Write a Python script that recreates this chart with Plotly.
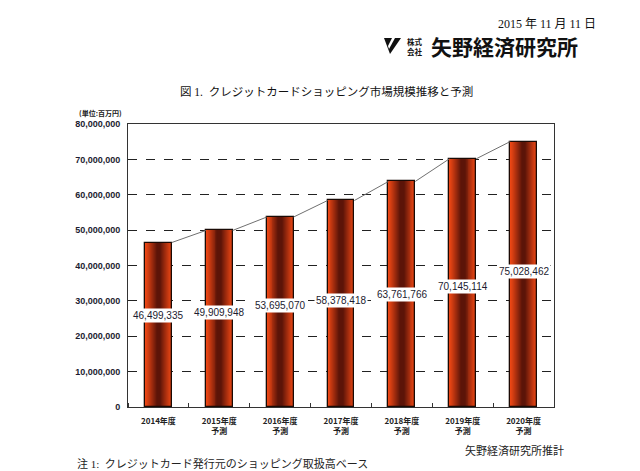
import plotly.graph_objects as go

# ---- data ----
years = ["2014年度", "2015年度", "2016年度", "2017年度", "2018年度", "2019年度", "2020年度"]
sublabels = ["", "予測", "予測", "予測", "予測", "予測", "予測"]
values = [46499335, 49909948, 53695070, 58378418, 63761766, 70145114, 75028462]
label_y = [26.0e6, 26.6e6, 28.8e6, 30.0e6, 31.9e6, 34.2e6, 38.4e6]  # where value labels sit
y_ticks = [0, 10000000, 20000000, 30000000, 40000000, 50000000, 60000000, 70000000, 80000000]

xs = list(range(len(years)))
BAR_W = 0.44
N_LAYERS = 14
edge = (236, 70, 20)
center = (92, 20, 8)

def lerp(a, b, t):
    return "rgb(%d,%d,%d)" % tuple(round(a[i] + (b[i] - a[i]) * t) for i in range(3))

fig = go.Figure()
for k in range(N_LAYERS):
    frac = 1 - k / N_LAYERS
    t = min(((1 - frac) ** 1.1) * 1.25, 1)
    fig.add_trace(go.Bar(x=xs, y=values, width=BAR_W * frac,
                         marker=dict(color=lerp(edge, center, t), line=dict(width=0)),
                         hoverinfo="skip", showlegend=False))
# outline
fig.add_trace(go.Bar(x=xs, y=values, width=BAR_W,
                     marker=dict(color="rgba(0,0,0,0)", line=dict(color="#1a0a05", width=1.3)),
                     hoverinfo="skip", showlegend=False))

# connecting series line (bar top-right to next bar top-left)
lx, ly = [], []
for i in range(len(values) - 1):
    lx += [xs[i] + BAR_W / 2, xs[i + 1] - BAR_W / 2, None]
    ly += [values[i], values[i + 1], None]
fig.add_trace(go.Scatter(x=lx, y=ly, mode="lines", line=dict(color="#707070", width=1),
                         hoverinfo="skip", showlegend=False))

ann = []
for x, v, ly_ in zip(xs, values, label_y):
    ann.append(dict(x=x, y=ly_, xref="x", yref="y", text=f"{v:,}", showarrow=False,
                    font=dict(family="Liberation Sans, Arial", size=10, color="#1c1c30"),
                    bgcolor="white", borderpad=1))

ticktext = [f"<b>{y}</b>" if s == "" else f"<b>{y}</b><br><b>{s}</b>" for y, s in zip(years, sublabels)]

jp = "Noto Sans CJK JP"
serif = "Liberation Serif, Noto Sans CJK JP"
texts = [
    dict(x=598, y=24, text="2015 年 11 月 11 日", xanchor="right",
         font=dict(family=serif, size=12, color="#111")),
    dict(x=405, y=46, text="<b>株式</b><br><b>会社</b>", xanchor="left",
         font=dict(family=jp, size=7.5, color="#111"), align="left"),
    dict(x=429, y=46, text="<b>矢野経済研究所</b>", xanchor="left",
         font=dict(family=jp, size=21, color="#111")),
    dict(x=326, y=91, text="図 1.  クレジットカードショッピング市場規模推移と予測",
         xanchor="center", font=dict(family=serif, size=11.5, color="#111")),
    dict(x=100, y=113, text="<b>(単位:百万円)</b>", xanchor="center",
         font=dict(family=jp, size=7, color="#222")),
    dict(x=566, y=450, text="矢野経済研究所推計", xanchor="right",
         font=dict(family=serif, size=11, color="#222")),
    dict(x=75, y=463, text="注 1:  クレジットカード発行元のショッピング取扱高ベース",
         xanchor="left", font=dict(family=serif, size=11, color="#222")),
]
# page is offset by the body margin (8px); place texts in reference pixel coords
OFF = 8
W, H = 640, 471
L, T = 128 - OFF, 124 - OFF
pw, ph = 426, 283
R, B = W - L - pw, H - T - ph

def ppx(px): return (px - OFF - L) / pw
def ppy(py): return 1 - (py - OFF - T) / ph

for a in texts:
    a["x"] = ppx(a["x"]); a["y"] = ppy(a["y"])
    a.update(xref="paper", yref="paper", showarrow=False, yanchor="middle")
    ann.append(a)

# logo mark
tri = [(384, 38), (401, 38), (390, 54)]
path = "M " + " L ".join(f"{ppx(x)},{ppy(y)}" for x, y in tri) + " Z"
cut = [(392, 38), (395, 38), (389, 49), (388, 46)]
path2 = "M " + " L ".join(f"{ppx(x)},{ppy(y)}" for x, y in cut) + " Z"

fig.update_layout(
    width=W, height=H,
    margin=dict(l=L, r=R, t=T, b=B),
    paper_bgcolor="white", plot_bgcolor="white",
    barmode="overlay", bargap=0,
    showlegend=False,
    annotations=ann,
    shapes=[dict(type="path", path=path, xref="paper", yref="paper",
                 fillcolor="#111", line=dict(width=0)),
            dict(type="path", path=path2, xref="paper", yref="paper",
                 fillcolor="white", line=dict(width=0))],
    xaxis=dict(range=[-0.5, len(years) - 0.5], tickvals=xs, ticktext=ticktext,
               ticks="", showgrid=False, zeroline=False, ticklabelstandoff=6,
               showline=True, linecolor="#333", linewidth=1, mirror=True,
               tickfont=dict(family=jp, size=8, color="#222"),
               minor=dict(tick0=0.5, dtick=1, ticks="inside", ticklen=4, tickcolor="#333", showgrid=False)),
    yaxis=dict(range=[0, 80000000], tickvals=y_ticks, tickformat=",",
               showgrid=True, gridcolor="#222", gridwidth=1, griddash="dash",
               zeroline=False, showline=True, linecolor="#333", linewidth=1, mirror=True,
               ticks="", ticklabelstandoff=5,
               tickfont=dict(family="Liberation Sans, Arial", size=9, color="#1c1c30", weight="bold")),
)
fig.write_html("out.html")
